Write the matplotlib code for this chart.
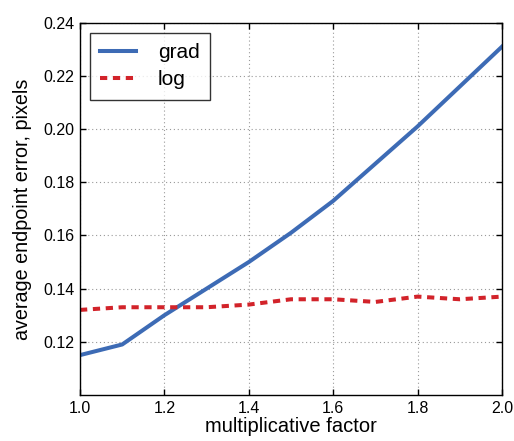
import matplotlib
matplotlib.use("Agg")
import matplotlib.pyplot as plt

plt.rcParams['font.family'] = ['Liberation Sans', 'DejaVu Sans']

factor = [1.0, 1.1, 1.2, 1.3, 1.4, 1.5, 1.6, 1.7, 1.8, 1.9, 2.0]
grad = [0.115, 0.119, 0.130, 0.140, 0.150, 0.161, 0.173, 0.187, 0.201, 0.216, 0.231]
log = [0.132, 0.133, 0.133, 0.133, 0.134, 0.136, 0.136, 0.135, 0.137, 0.136, 0.137]
xticks = [1.0, 1.2, 1.4, 1.6, 1.8, 2.0]
yticks = [0.12, 0.14, 0.16, 0.18, 0.20, 0.22, 0.24]

fig = plt.figure(figsize=(5.14, 4.41), dpi=100)
ax = fig.add_axes([80/514, 1 - 395/441, (502-80)/514, (395-22.7)/441])
ax.plot(factor, grad, color='#3d6bb5', lw=2.9, label='grad')
ax.plot(factor, log, color='#d2232a', lw=2.9, ls=(0, (1.8, 1.4)), label='log')
ax.set_xlim(1.0, 2.0)
ax.set_ylim(0.10, 0.24)
ax.set_xticks(xticks)
ax.set_xticklabels([f"{v:.1f}" for v in xticks])
ax.set_yticks(yticks)
ax.set_yticklabels([f"{v:.2f}" for v in yticks])
ax.tick_params(direction='in', top=True, right=True, labelsize=11.5, length=4, width=1, pad=4)
ax.grid(True, ls=(0, (1, 2.5)), color='#999999', lw=0.8)
for s in ax.spines.values():
    s.set_linewidth(1.0)
ax.set_xlabel('multiplicative factor', fontsize=14.5, labelpad=1)
ax.set_ylabel('average endpoint error, pixels', fontsize=14.2, labelpad=8)
leg = ax.legend(loc='upper left', fontsize=15, fancybox=False, edgecolor='black',
                handlelength=1.7, handletextpad=1.05, borderpad=0.5, labelspacing=0.4,
                borderaxespad=0.48)
leg.get_frame().set_linewidth(1.0)
fig.savefig('out.png', dpi=100)
